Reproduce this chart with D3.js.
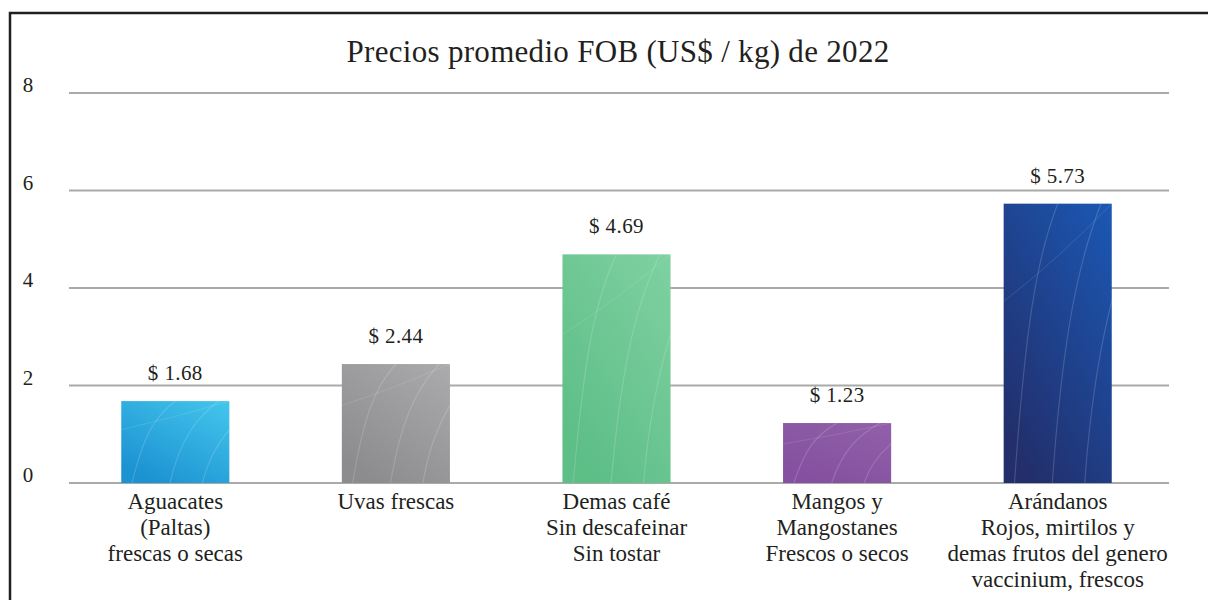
<!doctype html>
<html lang="es">

<head>
  <meta charset="utf-8" />
  <title>Precios promedio FOB 2022</title>
  <script src="https://d3js.org/d3.v7.min.js"></script>
  <style>
    body { margin: 0; background: #fff; }
    text { font-family: "Liberation Serif", "DejaVu Serif", serif; fill: #231f20; }
  </style>
</head>

<body>
  <div id="chart"></div>
  <script>
    // data
    const categories = [
      "Aguacates\n(Paltas)\nfrescas o secas",
      "Uvas frescas",
      "Demas café\nSin descafeinar\nSin tostar",
      "Mangos y\nMangostanes\nFrescos o secos",
      "Arándanos\nRojos, mirtilos y\ndemas frutos del genero\nvaccinium, frescos"
    ];
    const prices = [1.68, 2.44, 4.69, 1.23, 5.73];
    const yTicks = [0, 2, 4, 6, 8];
    const title = "Precios promedio FOB (US$ / kg) de 2022";

    // bar colours: top / bottom of the gradient
    const colorsTop = ["#44c6ec", "#ababad", "#7fd1a1", "#9260aa", "#1b58b4"];
    const colorsBottom = ["#1c92d2", "#8c8c8e", "#5dbe86", "#84509f", "#222f6c"];

    const width = 1208, height = 600;

    const svg = d3.select("#chart")
      .append("svg")
      .attr("width", width)
      .attr("height", height);

    // frame (right and bottom edge run off the picture)
    svg.append("path")
      .attr("d", "M10,620 L10,13 L1220,13")
      .attr("fill", "none")
      .attr("stroke", "#231f20")
      .attr("stroke-width", 2.5);

    const x = d3.scaleBand()
      .domain(categories)
      .range([65, 1168])
      .paddingInner(0.51)
      .paddingOuter(0.255);

    const y = d3.scaleLinear()
      .domain([0, 8])
      .range([483, 93]);

    // gradients
    const defs = svg.append("defs");
    const grads = defs.selectAll("linearGradient")
      .data(categories)
      .join("linearGradient")
      .attr("id", (d, i) => "g" + i)
      .attr("x1", "1").attr("y1", "0")
      .attr("x2", "0.3").attr("y2", "1");
    grads.append("stop").attr("offset", "0").attr("stop-color", (d, i) => colorsTop[i]);
    grads.append("stop").attr("offset", "1").attr("stop-color", (d, i) => colorsBottom[i]);

    // gridlines
    svg.append("g")
      .selectAll("line")
      .data(yTicks)
      .join("line")
      .attr("x1", 69)
      .attr("x2", 1169)
      .attr("y1", d => y(d))
      .attr("y2", d => y(d))
      .attr("stroke", "#aaaaaa")
      .attr("stroke-width", 2);

    // y labels
    svg.append("g")
      .selectAll("text")
      .data(yTicks)
      .join("text")
      .attr("x", 28)
      .attr("y", d => y(d) - 1)
      .attr("text-anchor", "middle")
      .style("font-size", "21px")
      .text(d => d);

    // bars
    const bars = svg.append("g");
    bars.selectAll("rect")
      .data(prices)
      .join("rect")
      .attr("x", (d, i) => x(categories[i]))
      .attr("y", d => y(d))
      .attr("width", x.bandwidth())
      .attr("height", d => y(0) - y(d))
      .attr("fill", (d, i) => `url(#g${i})`);

    // faint sweeping curves over the bars
    prices.forEach((d, i) => {
      const x0 = x(categories[i]), w = x.bandwidth(), y0 = y(d), h = y(0) - y(d);
      const clip = defs.append("clipPath").attr("id", "c" + i);
      clip.append("rect").attr("x", x0).attr("y", y0).attr("width", w).attr("height", h);
      const g = bars.append("g").attr("clip-path", `url(#c${i})`);
      [[0.1, 0.5], [0.45, 0.9], [0.75, 1.3]].forEach(([a, b]) => {
        g.append("path")
          .attr("d", `M${x0 + w * a},${y0 + h} C${x0 + w * (a + 0.1)},${y0 + h * 0.45} ${x0 + w * (b - 0.2)},${y0 + h * 0.2} ${x0 + w * b},${y0}`)
          .attr("fill", "none")
          .attr("stroke", "#ffffff")
          .attr("stroke-opacity", 0.16)
          .attr("stroke-width", 1.2);
      });
      g.append("path")
        .attr("d", `M${x0},${y0 + h * 0.35} Q${x0 + w * 0.5},${y0 + h * 0.2} ${x0 + w},${y0}`)
        .attr("fill", "none")
        .attr("stroke", "#ffffff")
        .attr("stroke-opacity", 0.12)
        .attr("stroke-width", 1);
    });

    // value labels
    svg.append("g")
      .selectAll("text")
      .data(prices)
      .join("text")
      .attr("x", (d, i) => x(categories[i]) + x.bandwidth() / 2)
      .attr("y", d => y(d) - 21)
      .attr("text-anchor", "middle")
      .style("font-size", "21px")
      .style("letter-spacing", "0.4px")
      .text(d => "$ " + d.toFixed(2));

    // category labels
    const cat = svg.append("g")
      .selectAll("text")
      .data(categories)
      .join("text")
      .attr("x", d => x(d) + x.bandwidth() / 2)
      .attr("y", 509)
      .attr("text-anchor", "middle")
      .style("font-size", "23px");
    cat.selectAll("tspan")
      .data(d => d.split("\n"))
      .join("tspan")
      .attr("x", function () { return d3.select(this.parentNode).attr("x"); })
      .attr("dy", (d, i) => i === 0 ? 0 : 26)
      .text(d => d);

    // title
    svg.append("text")
      .attr("x", 618)
      .attr("y", 62)
      .attr("text-anchor", "middle")
      .style("font-size", "31px")
      .style("letter-spacing", "0.3px")
      .text(title);
  </script>
</body>

</html>
